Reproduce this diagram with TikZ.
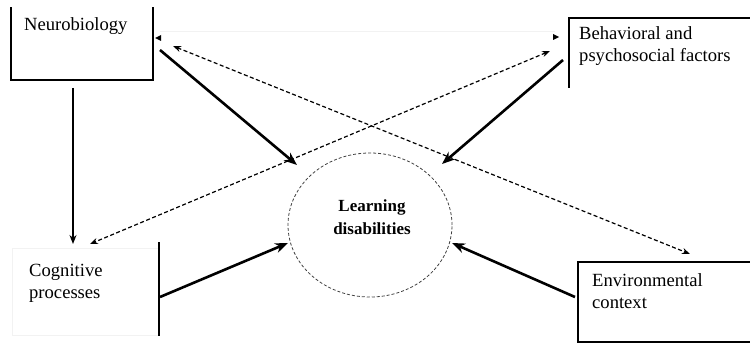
\documentclass[tikz,border=0pt]{standalone}
\usepackage{fontspec}
\setmainfont{Liberation Serif}
\usetikzlibrary{arrows.meta,shapes.geometric}
\begin{document}
\begin{tikzpicture}[x=1pt,y=-1pt,
  frame/.style={draw=none,rectangle,inner sep=0pt,outer sep=0pt},
  side/.style={line width=1.4pt,line cap=rect},
  faint/.style={draw=black!5,line width=0.7pt},
  label/.style={inner sep=0pt,anchor=west,align=left,
    font=\fontsize{18.6}{22}\selectfont},
  strong/.style={line width=2.6pt,-{Stealth[length=13pt,width=10pt]}},
  thin/.style={line width=1.3pt,-{Stealth[length=9pt,width=7pt]}},
  link/.style={line width=1.2pt,dash pattern=on 4pt off 2.5pt,
    {Stealth[length=8pt,width=6pt]}-{Stealth[length=8pt,width=6pt]}},
  tip/.style={fill=black}]
\useasboundingbox (0,0) rectangle (750,345);

% outer frames of the four boxes (only some sides are ruled)
\node[frame,minimum width=142pt,minimum height=72pt] (neuro) at (82,44) {};
\node[frame,minimum width=181pt,minimum height=69pt] (behav) at (659.5,52.5) {};
\node[frame,minimum width=147pt,minimum height=87pt] (cogn) at (85.5,291.5) {};
\node[frame,minimum width=172pt,minimum height=80pt] (envir) at (664,302) {};

\draw[side] (neuro.north west) -- (neuro.south west) -- (neuro.south east) -- (neuro.north east);
\draw[side] (behav.north east) -- (behav.north west) -- (behav.south west);
\draw[faint] (cogn.north east) -- (cogn.north west) -- (cogn.south west) -- (cogn.south east);
\draw[side] ([yshift=5pt]cogn.north east) -- (cogn.south east);
\draw[side] (envir.north east) -- (envir.north west) -- (envir.south west) -- (envir.south east);
\draw[faint] (160,31) -- (555,31);

% box texts
\node[label] (tneuro) at (24,26) {Neurobiology};
\node[label] (tbehav) at (579,46) {Behavioral and\\psychosocial factors};
\node[label] (tcogn) at (29,283.5) {Cognitive\\processes};
\node[label] (tenvir) at (592,291) {Environmental\\context};

% central outcome
\node[draw=black!75,line width=0.8pt,densely dashed,ellipse,
  minimum width=164pt,minimum height=144pt,inner sep=0pt] (ld) at (370,225) {};
\node[inner sep=0pt,align=center,font=\bfseries\fontsize{17}{23}\selectfont]
  (tld) at (372,217) {Learning\\disabilities};

% connector end points
\coordinate (nA) at (160,50);   \coordinate (nB) at (297,165);
\coordinate (bA) at (563,60);   \coordinate (bB) at (442,164);
\coordinate (cA) at (160,297);  \coordinate (cB) at (288,243);
\coordinate (eA) at (575,297);  \coordinate (eB) at (452,243);
\coordinate (vA) at (73,88);    \coordinate (vB) at (73,244);
\coordinate (dN) at (173,46);   \coordinate (dE) at (690,254);
\coordinate (dB) at (550,51);   \coordinate (dC) at (90,244);

% direct influences on learning disabilities
\draw[strong] (nA) -- (nB);
\draw[strong] (bA) -- (bB);
\draw[strong] (cA) -- (cB);
\draw[strong] (eA) -- (eB);
\draw[thin] (vA) -- (vB);

% reciprocal links
\draw[link] (dN) -- (dE);
\draw[link] (dB) -- (dC);

% small stray arrow marks beside the upper boxes
\fill[tip] (155,38) -- (161,35) -- (161,41) -- cycle;
\fill[tip] (559,37) -- (553,34) -- (553,40) -- cycle;
\end{tikzpicture}
\end{document}
